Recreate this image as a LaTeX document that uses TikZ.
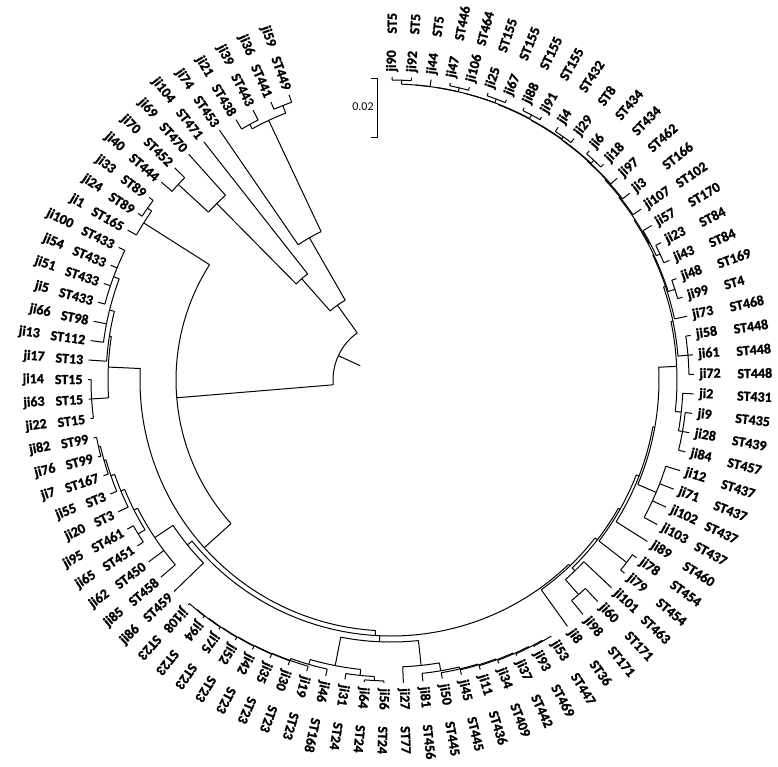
\documentclass[tikz,border=0pt]{standalone}
\usepackage{fontspec}
\setmainfont{Carlito}[BoldFont={Carlito Bold},BoldFeatures={FakeBold=1.3}]
\newcommand\tn[4]{%
 \pgfmathsetmacro\aA{89.8-((#2)-1)*3.697}%
 \pgfmathsetmacro\aB{89.8-((#3)-1)*3.697}%
 \pgfmathsetmacro\aM{(\aA+\aB)/2}%
 \draw (\aA:#1) arc[start angle=\aA, end angle=\aB, radius=#1];
 \draw (\aM:#4) -- (\aM:#1);}
\newcommand\tl[2]{%
 \pgfmathsetmacro\aA{89.8-((#1)-1)*3.697}%
 \draw (\aA:#2) -- (\aA:303);}
\begin{document}
\begin{tikzpicture}[x=1pt,y=1pt,line width=1pt,
  lab/.style={font=\fontsize{14}{14}\selectfont\bfseries,inner sep=0pt}]
\useasboundingbox (0,0) rectangle (778,-766);
% scale bar
\draw (371,-78) -- (377,-78) -- (377,-137) -- (371,-137);
\node[font=\fontsize{12}{12}\selectfont,inner sep=0pt] (sb) at (363,-107) {0.02};
\begin{scope}[shift={(391,-380)}]
% top-left clade
\tn{292}{90}{91}{287}\tl{90}{292}\tl{91}{292}
\tn{295}{92}{93}{287}\tl{92}{295}\tl{93}{295}
\tn{287}{90.5}{92.5}{164}
\tn{164}{89}{91.5}{92}\tl{89}{164}
\tn{289}{85}{86}{248}\tl{85}{289}\tl{86}{289}
\tn{248}{85.5}{87}{135}\tl{87}{248}
\tn{135}{86.25}{88}{92}\tl{88}{135}
\tn{92}{87.125}{90.25}{58}
% root and left backbone
\tn{58}{72.7}{88.69}{34}
\tn{215}{62.64}{82.75}{58}
\tn{298}{83}{84}{293}\tl{83}{298}\tl{84}{298}
\tn{293}{82}{83.5}{215}\tl{82}{293}
\tn{251}{50.59}{74.69}{215}
% left clade
\tn{300}{72}{74}{283}\tl{72}{300}\tl{73}{300}\tl{74}{300}
\tn{296}{78}{81}{290}\tl{78}{296}\tl{79}{296}\tl{80}{296}\tl{81}{296}
\tn{290}{76}{79.5}{285}\tl{76}{290}\tl{77}{290}
\tn{285}{75}{77.75}{283}\tl{75}{285}
\tn{283}{73}{76.375}{251}
% second backbone
\tn{256}{37.75}{63.43}{251}
% lower-left clade
\tn{300}{70}{71}{298}\tl{70}{300}\tl{71}{300}
\tn{298}{69}{70.5}{296}\tl{69}{298}
\tn{296}{68}{69.75}{292}\tl{68}{296}
\tn{292}{67}{68.875}{288}\tl{67}{292}
\tn{296}{65}{66}{288}\tl{65}{296}\tl{66}{296}
\tn{288}{65.5}{67.94}{284}
\tn{284}{63}{66.72}{262}\tl{63}{284}\tl{64}{284}
\tn{262}{62}{64.86}{256}\tl{62}{262}
% bottom: ST23 ladder and neighbours
\tn{301}{60}{61}{300.5}\tl{60}{301}\tl{61}{301}
\tn{300.5}{59}{60.5}{300}\tl{59}{300.5}
\tn{300}{58}{59.75}{299.5}\tl{58}{300}
\tn{299.5}{57}{58.875}{299}\tl{57}{299.5}
\tn{299}{56}{57.94}{298.5}\tl{56}{299}
\tn{298.5}{55}{56.97}{298}\tl{55}{298.5}
\tn{298}{54}{55.985}{296}\tl{54}{298}
\tn{296}{53}{54.99}{291}\tl{53}{296}
\tn{301}{50}{51}{297}\tl{50}{301}\tl{51}{301}
\tn{297}{50.5}{52}{291}\tl{52}{297}
\tn{291}{51.25}{54.0}{262}
% bottom right ladder
\tn{302}{41}{42}{301}\tl{41}{302}\tl{42}{302}
\tn{301}{41.5}{43}{300}\tl{43}{301}
\tn{300}{42.25}{44}{299}\tl{44}{300}
\tn{299}{43.125}{45}{298}\tl{45}{299}
\tn{298}{44.06}{46}{297}\tl{46}{298}
\tn{297}{45.03}{47}{295}\tl{47}{297}
\tn{295}{46.02}{48}{287}\tl{48}{295}
\tn{287}{47.01}{49}{262}\tl{49}{287}
\tn{262}{48.0}{52.625}{256}
% right side
\tn{285}{38}{39}{265}\tl{38}{285}\tl{39}{285}
\tn{265}{37}{38.5}{261}\tl{37}{265}
\tn{298}{35}{36}{263}\tl{35}{298}\tl{36}{298}
\tn{288}{30}{33}{268}\foreach \k in {30,...,33}{\tl{\k}{288}}
\tn{296}{27}{29}{292}\foreach \k in {27,...,29}{\tl{\k}{296}}
\tn{292}{26}{28}{286}\tl{26}{292}
\tn{298}{23}{25}{288}\foreach \k in {23,...,25}{\tl{\k}{298}}
\tn{298}{20}{21}{291}\tl{20}{298}\tl{21}{298}
\tn{297}{18}{19}{293}\tl{18}{297}\tl{19}{297}
\tn{293}{17}{18.5}{292}\tl{17}{293}
\tn{299}{12}{13}{295}\tl{12}{299}\tl{13}{299}
\tn{298}{10}{11}{295.5}\tl{10}{298}\tl{11}{298}
\tn{300}{8}{9}{296}\tl{8}{300}\tl{9}{300}
\tn{300}{6}{7}{296}\tl{6}{300}\tl{7}{300}
\tn{300}{4}{5}{296}\tl{4}{300}\tl{5}{300}
\tn{300}{1}{2}{296}\tl{1}{300}\tl{2}{300}
\tn{296}{1.5}{3}{296}\tl{3}{296}
\tn{296}{2.25}{4.5}{296}
\tn{296}{3.375}{6.5}{296}
\tn{296}{4.94}{8.5}{295.5}
\tn{295.5}{6.72}{10.5}{295}
\tn{295}{8.61}{12.5}{294.5}
\tn{294.5}{10.55}{14}{294}\tl{14}{294.5}
\tn{294}{12.28}{15}{293}\tl{15}{294}
\tn{293}{13.64}{16}{292}\tl{16}{293}
\tn{292}{14.82}{17.75}{291}
\tn{291}{16.29}{20.5}{290}
\tn{290}{18.39}{22}{288}\tl{22}{290}
\tn{288}{20.2}{24}{286}
\tn{286}{22.1}{27}{268}
\tn{268}{24.55}{31.5}{266}
\tn{266}{28.03}{34}{263}\tl{34}{266}
\tn{263}{31.0}{35.5}{261}
\tn{261}{33.25}{37.75}{258}
\tn{258}{35.5}{40}{256}\tl{40}{258}
% labels
\foreach \i/\j/\s in {1/90/5, 2/92/5, 3/44/5, 4/47/446, 5/106/464, 6/25/155, 7/67/155, 8/88/155, 9/91/155, 10/4/432, 11/29/8, 12/6/434, 13/18/434, 14/97/462, 15/3/166, 16/107/102, 17/57/170, 18/23/84, 19/43/84, 20/48/169, 21/99/4, 22/73/468, 23/58/448, 24/61/448, 25/72/448, 26/2/431, 27/9/435, 28/28/439, 29/84/457, 30/12/437, 31/71/437, 32/102/437, 33/103/437, 34/89/460, 35/78/454, 36/79/454, 37/101/463, 38/60/171, 39/98/171, 40/8/36, 41/53/447, 42/93/469, 43/37/442, 44/34/409, 45/11/436, 46/45/445, 47/50/445, 48/81/456, 49/27/77, 50/56/24, 51/64/24, 52/31/24, 53/46/168, 54/19/23, 55/30/23, 56/35/23, 57/42/23, 58/52/23, 59/75/23, 60/94/23, 61/108/23, 62/86/459, 63/85/458, 64/62/450, 65/65/451, 66/95/461, 67/20/3, 68/55/3, 69/7/167, 70/76/99, 71/82/99, 72/22/15, 73/63/15, 74/14/15, 75/17/13, 76/13/112, 77/66/98, 78/5/433, 79/51/433, 80/54/433, 81/100/433, 82/1/165, 83/24/89, 84/33/89, 85/40/444, 86/70/452, 87/69/470, 88/104/471, 89/74/453, 90/21/438, 91/39/443, 92/36/441, 93/59/449}{
  \pgfmathsetmacro\a{89.8-(\i-1)*3.697}
  \ifnum\i<62
    \node[lab,rotate=\a,anchor=west] (j\i) at (\a:308) {ji\j};
    \node[lab,rotate=\a,anchor=west] (s\i) at (\a:346) {ST\s};
  \else
    \pgfmathsetmacro\b{\a+180}
    \node[lab,rotate=\b,anchor=east] (s\i) at (\a:308) {ST\s};
    \node[lab,rotate=\b,anchor=east] (j\i) at ([shift={(\a:10)}]s\i.west) {ji\j};
  \fi
}
\end{scope}
\end{tikzpicture}
\end{document}
